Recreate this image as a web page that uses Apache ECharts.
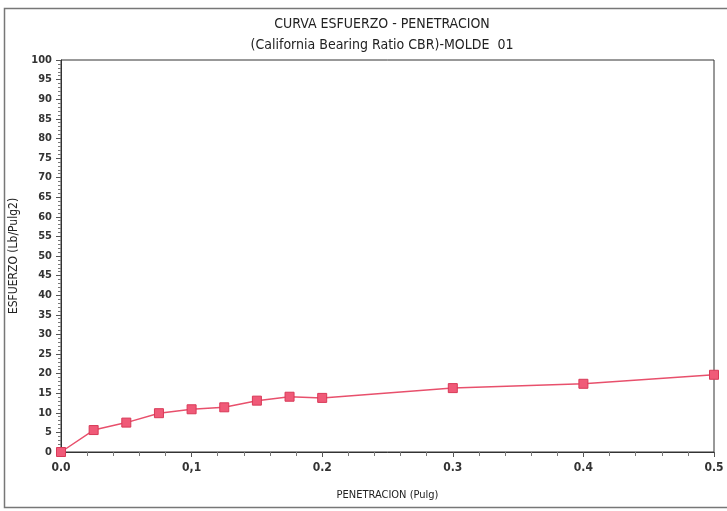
<!DOCTYPE html>
<html>
<head>
<meta charset="utf-8">
<script src="https://cdn.jsdelivr.net/npm/echarts@6/dist/echarts.min.js"></script>
<style>
  html, body { margin: 0; padding: 0; background: #fff; }
  #chart { width: 727px; height: 511px; }
</style>
</head>
<body>
<div id="chart"></div>
<script>
// Penetration readings (in) and measured stress (Lb/Pulg2)
const penetracion = [0, 0.025, 0.05, 0.075, 0.1, 0.125, 0.15, 0.175, 0.2, 0.3, 0.4, 0.5];
const esfuerzo = [0, 5.6, 7.5, 9.9, 10.9, 11.4, 13.1, 14.1, 13.8, 16.3, 17.4, 19.7];
const xTickLabels = ['0.0', '0,1', '0.2', '0.3', '0.4', '0.5'];
const titleLines = ['CURVA ESFUERZO - PENETRACION', '(California Bearing Ratio CBR)-MOLDE  01'];

const FONT = '"DejaVu Sans Condensed", "Liberation Sans", Arial, sans-serif';

const chart = echarts.init(document.getElementById('chart'));
chart.setOption({
  animation: false,
  backgroundColor: '#ffffff',
  title: {
    text: titleLines.join('\n'),
    left: 377,
    textAlign: 'center',
    top: 9,
    textStyle: { fontFamily: FONT, fontSize: 14, fontWeight: 'normal', color: '#222', lineHeight: 21 }
  },
  graphic: [{
    type: 'rect',
    shape: { x: 4.5, y: 8.5, width: 740, height: 499 },
    style: { fill: 'none', stroke: '#777', lineWidth: 1.5 },
    z: -1
  }],
  grid: {
    left: 61, right: 13, top: 60, bottom: 59,
    show: true, borderColor: '#333', borderWidth: 1
  },
  xAxis: {
    type: 'value',
    min: 0, max: 0.5, interval: 0.1,
    name: 'PENETRACION (Pulg)',
    nameLocation: 'middle',
    nameGap: 38,
    nameTextStyle: { fontFamily: FONT, fontSize: 11, color: '#222' },
    axisLine: { show: true, lineStyle: { color: '#333' } },
    axisTick: { show: true, length: 5, lineStyle: { color: '#555' } },
    minorTick: { show: true, splitNumber: 5, length: 4, lineStyle: { color: '#777' } },
    splitLine: { show: false },
    axisLabel: {
      margin: 10,
      fontFamily: FONT, fontSize: 12, fontWeight: 'bold', color: '#333',
      formatter: (v) => xTickLabels[Math.round(v * 10)]
    }
  },
  yAxis: {
    type: 'value',
    min: 0, max: 100, interval: 5,
    name: 'ESFUERZO (Lb/Pulg2)',
    nameLocation: 'middle',
    nameGap: 41,
    nameTextStyle: { fontFamily: FONT, fontSize: 12, color: '#222' },
    axisLine: { show: true, lineStyle: { color: '#333' } },
    axisTick: { show: true, length: 5, lineStyle: { color: '#555' } },
    minorTick: { show: true, splitNumber: 5, length: 3, lineStyle: { color: '#777' } },
    splitLine: { show: false },
    axisLabel: { margin: 9, fontFamily: FONT, fontSize: 11, fontWeight: 'bold', color: '#333' }
  },
  series: [{
    type: 'line',
    data: penetracion.map((x, i) => [x, esfuerzo[i]]),
    symbol: 'rect',
    symbolSize: 9,
    lineStyle: { color: '#e8506c', width: 1.5 },
    itemStyle: { color: '#f05a78', borderColor: '#d83a58', borderWidth: 1 }
  }]
});
</script>
</body>
</html>
